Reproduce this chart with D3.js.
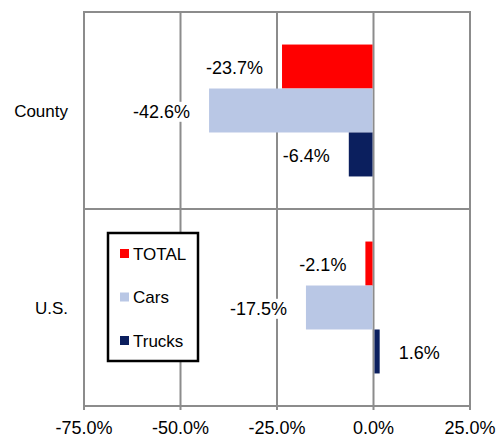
<!DOCTYPE html>
<html>
<head>
	<meta charset="utf-8">
	<title>County vs U.S.</title>
	<script src="https://d3js.org/d3.v7.min.js"></script>
	<style>
		body { margin: 0; background: #fff; }
		text { font-family: "Liberation Sans", Arial, sans-serif; fill: #000; }
	</style>
</head>
<body>
	<script>
		var width = 496, height = 437;

		// data
		var categories = ["County", "U.S."];
		var seriesNames = ["TOTAL", "Cars", "Trucks"];
		var total = [-23.7, -2.1];
		var cars = [-42.6, -17.5];
		var trucks = [-6.4, 1.6];
		var ticks = [-75, -50, -25, 0, 25];

		var colors = {"TOTAL": "#ff0000", "Cars": "#b9c7e5", "Trucks": "#0b1f5e"};
		var values = {"TOTAL": total, "Cars": cars, "Trucks": trucks};

		// plot box (note: "top" is reserved on window, so use other names)
		var pLeft = 84, pRight = 470, pTop = 12, pBottom = 406;
		var grid = "#8c8c8c";

		var svg = d3.select("body").append("svg").attr("width", width).attr("height", height);

		var x = d3.scaleLinear().domain([-75, 25]).range([pLeft, pRight]);
		var y = d3.scaleBand().domain(categories).range([pTop, pBottom]);
		var yInner = d3.scaleBand().domain(seriesNames).range([0, y.bandwidth()]).paddingOuter(0.74);

		// vertical gridlines and bottom ticks
		svg.append("g").selectAll("line")
			.data(ticks)
			.enter().append("line")
			.attr("x1", function(d){return x(d);})
			.attr("x2", function(d){return x(d);})
			.attr("y1", pTop)
			.attr("y2", pBottom + 4)
			.attr("stroke", grid).attr("stroke-width", 2);

		// horizontal lines: top, between categories, bottom
		svg.append("g").selectAll("line")
			.data([pTop, y("U.S."), pBottom])
			.enter().append("line")
			.attr("x1", pLeft - 1).attr("x2", pRight + 1)
			.attr("y1", function(d){return d;}).attr("y2", function(d){return d;})
			.attr("stroke", grid).attr("stroke-width", 2);

		// bars
		var rows = [];
		categories.forEach(function(c, i){
			seriesNames.forEach(function(s){ rows.push({cat: c, s: s, v: values[s][i]}); });
		});

		svg.append("g").selectAll("rect")
			.data(rows)
			.enter().append("rect")
			.attr("x", function(d){return d.v < 0 ? x(d.v) : x(0) + 1;})
			.attr("width", function(d){return Math.abs(x(d.v) - x(0)) - 1;})
			.attr("y", function(d){return y(d.cat) + yInner(d.s);})
			.attr("height", yInner.bandwidth())
			.attr("fill", function(d){return colors[d.s];});

		// data labels with white background
		var labels = svg.append("g").selectAll("g")
			.data(rows)
			.enter().append("g");

		labels.append("text")
			.attr("x", function(d){return d.v < 0 ? x(d.v) - 19 : x(d.v) + 19;})
			.attr("y", function(d){return y(d.cat) + yInner(d.s) + yInner.bandwidth() / 2 + 1;})
			.attr("dy", "0.35em")
			.attr("text-anchor", function(d){return d.v < 0 ? "end" : "start";})
			.style("font-size", "18px")
			.text(function(d){return d.v.toFixed(1) + "%";});

		labels.each(function(){
			var g = d3.select(this);
			var b = g.select("text").node().getBBox();
			g.insert("rect", "text")
				.attr("x", b.x - 2).attr("y", b.y)
				.attr("width", b.width + 4).attr("height", b.height)
				.attr("fill", "#fff");
		});

		// x axis labels
		svg.append("g").selectAll("text")
			.data(ticks)
			.enter().append("text")
			.attr("x", function(d){return x(d);})
			.attr("y", 428)
			.attr("dy", "0.35em")
			.attr("text-anchor", "middle")
			.style("font-size", "18px")
			.text(function(d){return d.toFixed(1) + "%";});

		// category labels
		svg.append("g").selectAll("text")
			.data(categories)
			.enter().append("text")
			.attr("x", pLeft - 16)
			.attr("y", function(d){return y(d) + y.bandwidth() / 2 + 1;})
			.attr("dy", "0.35em")
			.attr("text-anchor", "end")
			.style("font-size", "17px")
			.text(function(d){return d;});

		// legend
		var legend = svg.append("g");
		legend.append("rect")
			.attr("x", 108).attr("y", 233)
			.attr("width", 90).attr("height", 128)
			.attr("fill", "#fff").attr("stroke", "#000").attr("stroke-width", 2.5);

		var item = legend.selectAll("g.item")
			.data(seriesNames)
			.enter().append("g").attr("class", "item")
			.attr("transform", function(d, i){return "translate(120," + (254 + i * 43.5) + ")";});
		item.append("rect")
			.attr("x", 0).attr("y", -5).attr("width", 9).attr("height", 9)
			.attr("fill", function(d){return colors[d];});
		item.append("text")
			.attr("x", 13).attr("y", 0)
			.attr("dy", "0.35em")
			.style("font-size", "17px")
			.text(function(d){return d;});
	</script>
</body>
</html>
